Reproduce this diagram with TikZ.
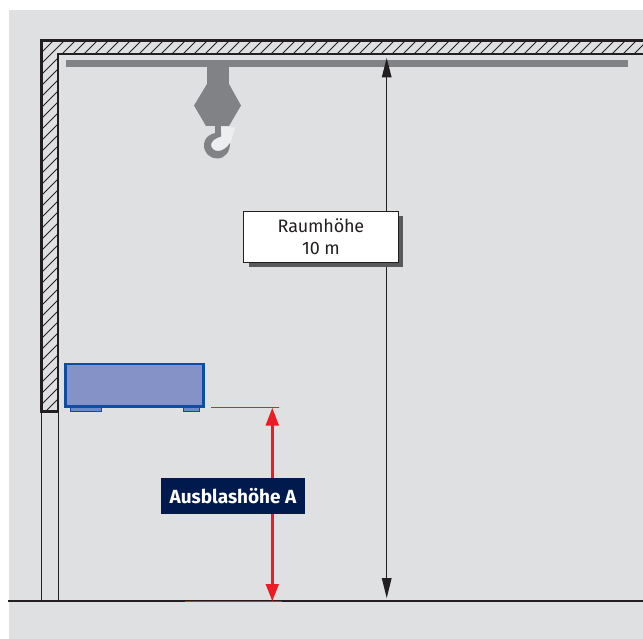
\documentclass[tikz,border=0pt]{standalone}
\usepackage{fontspec}
\setmainfont{Fira Sans}
\definecolor{bggray}{HTML}{DFE0E2}
\definecolor{cranegray}{HTML}{808285}
\definecolor{wallblack}{HTML}{231F20}
\definecolor{unitfill}{HTML}{8492C8}
\definecolor{unitline}{HTML}{0F4DA2}
\definecolor{footfill}{HTML}{6C8AC8}
\definecolor{redline}{HTML}{ED1C24}
\definecolor{navy}{HTML}{001A4D}
\definecolor{shadowgray}{HTML}{58595B}
\definecolor{hooklight}{HTML}{EDEEEF}
\tikzset{
  wallline/.style={draw=wallblack,line width=2.9pt,line join=miter},
  thinwall/.style={draw=wallblack,line width=1.5pt},
  hatchline/.style={draw=wallblack,line width=.85pt},
  crane/.style={fill=cranegray,draw=none},
  dimblack/.style={draw=wallblack,line width=1.2pt},
  dimred/.style={draw=redline,line width=2.4pt},
  tipblack/.style={fill=wallblack,draw=none},
  tipred/.style={fill=redline,draw=none},
  reflinered/.style={fill=redline,draw=none},
  labelwhite/.style={draw=wallblack,fill=white,line width=1pt,align=center,minimum width=155pt,minimum height=51pt,inner sep=0pt,font=\fontsize{18}{22}\selectfont\addfontfeature{LetterSpace=-1},text=wallblack},
  labelnavy/.style={fill=navy,text=white,minimum width=144pt,minimum height=36pt,inner sep=0pt,font=\fontsize{19}{22}\selectfont\bfseries}
}
\begin{document}
\begin{tikzpicture}[x=1pt,y=-1pt]
\useasboundingbox (0,0) rectangle (643,639);
\fill[white] (0,0) rectangle (643,639);
\fill[bggray] (9,10) rectangle (643,639);
% hatching in wall
\begin{scope}
\clip (42,40) -- (643,40) -- (643,54) -- (58,54) -- (58,412) -- (42,412) -- cycle;
\foreach \k in {0,...,100} {
  \draw[hatchline] ({43+11*\k},40) -- ++(-400,400);
}
\end{scope}
% wall outlines
\draw[wallline] (643,40.2) -- (41.9,40.2) -- (41.9,411.5) -- (58,411.5) -- (58,54) -- (643,54);
\draw[thinwall] (41.7,412) -- (41.7,600);
\draw[thinwall] (58.3,412) -- (58.3,600);
% floor
\fill[wallblack] (8,600) rectangle (643,602.4);
% crane
\fill[crane] (66,60) rectangle (628,67.5);
\fill[crane] (207,67) rectangle (229,85);
\fill[crane] (207,84) -- (229,84) -- (241,105.5) -- (229,126) -- (206,126) -- (194,105.5) -- cycle;
\fill[hooklight] (220,126.5) -- (235,127.5) -- (230,145) -- (226,151) -- (214,151) -- (210,142) -- (218,134) -- cycle;
\fill[crane] (214.5,125) rectangle (221,136.5);
\fill[crane] (221,132.5) .. controls (211,132.5) and (204,137) .. (204,145.5)
  .. controls (204,153) and (210,158.5) .. (217,158.5)
  .. controls (225,158.5) and (230,152) .. (230,143)
  .. controls (227,148) and (222,151) .. (218,151)
  .. controls (214,151) and (211,148) .. (211,145)
  .. controls (211,141) and (216,138) .. (221,136.5) -- cycle;
% unit
\fill[footfill,draw=unitline,line width=.6pt] (70,406) rectangle (101.5,411);
\fill[footfill,draw=unitline,line width=.6pt] (183,406) rectangle (199.5,411);
\draw[draw=unitline,fill=unitfill,line width=2.7pt] (65.7,364) rectangle (203.6,406.6);
% room height dimension
\coordinate (rtop) at (386.7,58);
\coordinate (rbot) at (386.7,598);
\draw[dimblack] (386.7,75) -- (386.7,582);
\fill[tipblack] (rtop) -- (391.7,77.5) -- (381.7,77.5) -- cycle;
\fill[tipblack] (rbot) -- (391.7,578) -- (381.7,578) -- cycle;
% exhaust height
\draw[dimred] (272.3,425) -- (272.3,585);
\fill[tipred] (272.3,408) -- (279,425.5) -- (265.5,425.5) -- cycle;
\fill[tipred] (272.3,601) -- (279,584) -- (265.5,584) -- cycle;
\fill[reflinered] (211,407) rectangle (279,408.4);
\fill[reflinered] (185,600.6) rectangle (282,602.2);
% labels
\fill[shadowgray] (248.5,216) rectangle (403,267);
\node[labelwhite] (raum) at (321,237) {Raumhöhe\\10 m};
\node[labelnavy] (ausblas) at (233,496) {Ausblashöhe A};
\end{tikzpicture}
\end{document}
